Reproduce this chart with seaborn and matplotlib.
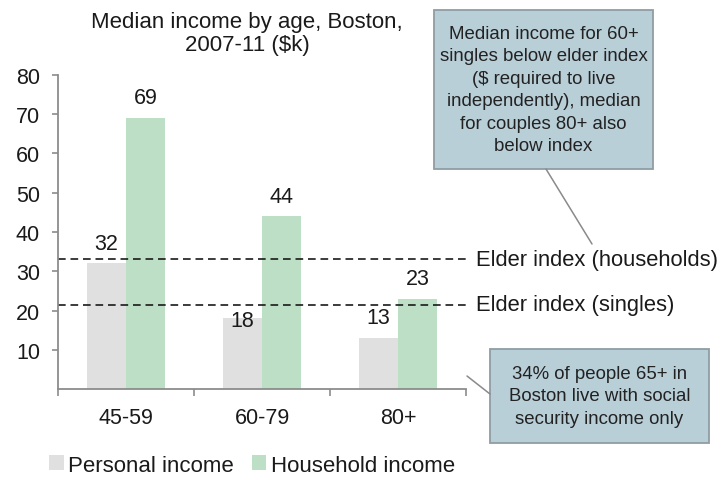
import matplotlib
matplotlib.use("Agg")
import matplotlib.pyplot as plt
import seaborn as sns
import pandas as pd
from matplotlib.patches import Rectangle, Patch
from matplotlib.lines import Line2D
import matplotlib.transforms as mtransforms

# ---- data ----
ages = ["45-59", "60-79", "80+"]
personal_income = [32, 18, 13]
household_income = [69, 44, 23]
series_names = ["Personal income", "Household income"]
elder_index_households = 33
elder_index_singles = 21.5
y_ticks = [10, 20, 30, 40, 50, 60, 70, 80]
title_text = "Median income by age, Boston,\n2007-11 ($k)"
box1_text = ("Median income for 60+\nsingles below elder index\n($ required to live\n"
             "independently), median\nfor couples 80+ also\nbelow index")
box2_text = "34% of people 65+ in\nBoston live with social\nsecurity income only"

df = pd.DataFrame({
    "age": ages * 2,
    "income": personal_income + household_income,
    "type": [series_names[0]] * 3 + [series_names[1]] * 3,
})

sns.set_theme(style="white")
plt.rcParams["font.family"] = ["Liberation Sans", "DejaVu Sans"]

W, H = 722, 481
fig = plt.figure(figsize=(W / 100, H / 100), dpi=100)
ax = fig.add_axes([58 / W, 1 - 390 / H, (466 - 58) / W, (390 - 76) / H])

colors = {"Personal income": "#e0e0e0", "Household income": "#bcdfc5"}
sns.barplot(data=df, x="age", y="income", hue="type", palette=colors,
            width=0.58, saturation=1, ax=ax, legend=False, linewidth=0)

txtc = "#1a1a1a"
ax.set_ylim(0, 80)
ax.set_xlim(-0.5, 2.5)
ax.set_yticks(y_ticks)
ax.set_yticklabels([str(v) for v in y_ticks])
ax.set_xlabel("")
ax.set_ylabel("")

for s in ["top", "right"]:
    ax.spines[s].set_visible(False)
for s in ["left", "bottom"]:
    ax.spines[s].set_color("#8c8c8c")
    ax.spines[s].set_linewidth(1.3)

ax.tick_params(axis="y", which="major", direction="out", length=4, width=1.2,
               color="#8c8c8c", pad=9, labelsize=15.5, labelcolor=txtc, left=True)
ax.set_xticks([-0.5, 0.5, 1.5, 2.5], minor=True)
ax.tick_params(axis="x", which="minor", direction="out", length=5, width=1.2,
               color="#8c8c8c", bottom=True)
ax.tick_params(axis="x", which="major", length=0, pad=13, labelsize=15.5,
               labelcolor=txtc)

# value labels
personal_offsets = [7, -9, 7]
household_offsets = [7, 7, 7]
for cont, vals, offs in zip(ax.containers, [personal_income, household_income],
                            [personal_offsets, household_offsets]):
    for bar, v, o in zip(cont.patches, vals, offs):
        ax.annotate(f"{v}", (bar.get_x() + bar.get_width() / 2, bar.get_height()),
                    xytext=(0, o), textcoords="offset points", ha="center",
                    va="bottom", fontsize=15.5, color=txtc)

# elder index lines
for val, lab in [(elder_index_households, "Elder index (households)"),
                 (elder_index_singles, "Elder index (singles)")]:
    ax.axhline(val, color="#1a1a1a", lw=1.2, ls=(0, (4.6, 2.9)), clip_on=False)
    trans = mtransforms.blended_transform_factory(ax.transAxes, ax.transData)
    ax.text((476 - 58) / (466 - 58), val, lab, transform=trans, ha="left",
            va="center", fontsize=15.8, color=txtc, clip_on=False)

# title
fig.text(247 / W, 1 - 34 / H, title_text, ha="center", va="center",
         fontsize=16, color=txtc, linespacing=1.15)

# annotation boxes
box_fc = "#b9cfd8"
box_ec = "#8f9da3"
for (x0, y0, x1, y1), txt, (lx0, ly0, lx1, ly1) in [
        ((434, 11, 653, 170), box1_text, (546, 170, 592, 245)),
        ((490, 350, 709, 444), box2_text, (490, 395, 467, 377))]:
    fig.add_artist(Line2D([lx0 / W, lx1 / W], [1 - ly0 / H, 1 - ly1 / H],
                          transform=fig.transFigure, color="#8a8a8a", lw=1.1))
    fig.add_artist(Rectangle((x0 / W, 1 - y1 / H), (x1 - x0) / W, (y1 - y0) / H,
                             transform=fig.transFigure, facecolor=box_fc,
                             edgecolor=box_ec, lw=1.3))
    fig.text((x0 + x1) / 2 / W, 1 - (y0 + y1) / 2 / H, txt, ha="center",
             va="center", fontsize=13.4, color="#222222", linespacing=1.43)

# legend
handles = [Patch(facecolor=colors[n], edgecolor="none", label=n) for n in series_names]
fig.legend(handles=handles, loc="center", bbox_to_anchor=(252 / W, 1 - 466 / H),
           ncol=2, frameon=False, fontsize=16, handlelength=0.65,
           handleheight=0.65, handletextpad=0.2, columnspacing=0.8,
           labelcolor=txtc)

fig.savefig("out.png", dpi=100)
